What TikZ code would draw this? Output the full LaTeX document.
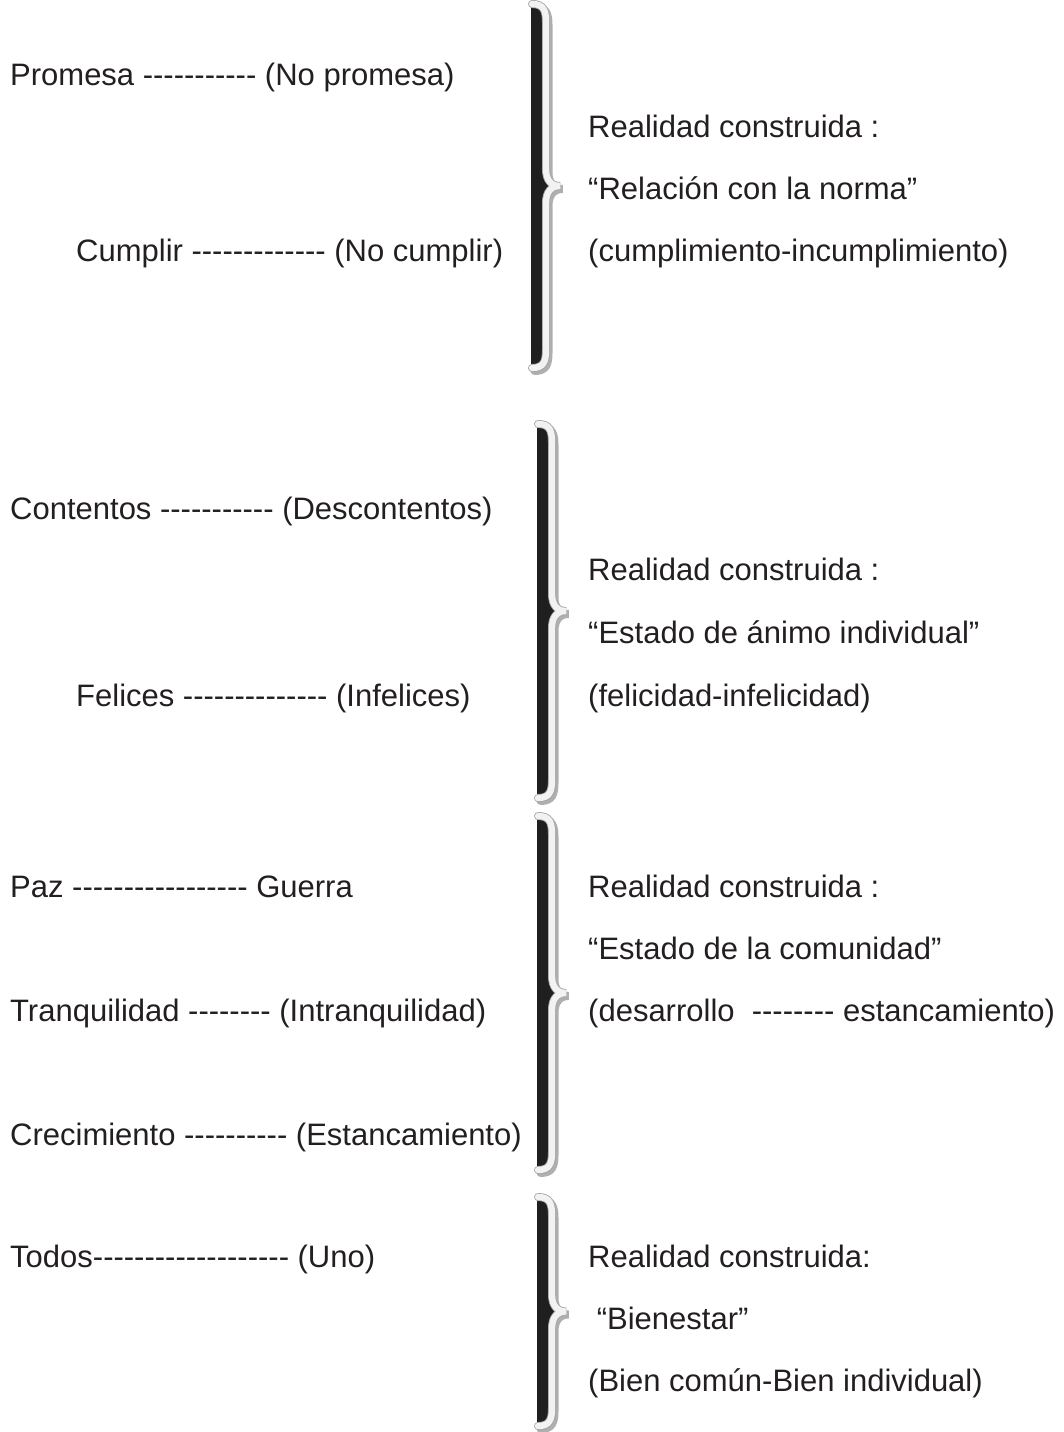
\documentclass[tikz,border=0pt]{standalone}
\usepackage{fontspec}
\defaultfontfeatures{Ligatures=TeXOff}
\setmainfont{Liberation Sans}[Ligatures=TeXOff]
\usepackage{tikz}
\definecolor{bracelight}{RGB}{242,242,242}
\definecolor{braceedge}{RGB}{165,165,165}
\definecolor{braceshadow}{RGB}{175,175,175}
\definecolor{txt}{RGB}{35,31,32}
% #1 left edge, #2 top, #3 bottom
\newcommand{\realbrace}[3]{%
  \pgfmathsetmacro{\bmid}{(#2+#3)/2}
  \def\bpath{(#1+1,#2) .. controls (#1+13,#2) and (#1+15,#2+7) .. (#1+15,#2+18)
      -- (#1+15,\bmid-17) .. controls (#1+15,\bmid-5) and (#1+21,\bmid) .. (#1+29,\bmid)
      .. controls (#1+21,\bmid) and (#1+15,\bmid+5) .. (#1+15,\bmid+17)
      -- (#1+15,#3-18) .. controls (#1+15,#3-7) and (#1+13,#3) .. (#1+1,#3)}
  \draw[braceshadow, line width=8pt, line cap=round, shift={(2.5,3)}] \bpath;
  \fill[black!88] \bpath -- (#1,#3) -- (#1,#2) -- cycle;
  \draw[braceedge, line width=8pt, line cap=round] \bpath;
  \draw[bracelight, line width=6.3pt, line cap=round] \bpath;
}
\tikzset{
    term/.style={anchor=base west, inner sep=0pt, text=txt, font=\fontsize{31}{37}\selectfont},
    reality/.style={term}
}

\begin{document}
\begin{tikzpicture}[x=1pt, y=-1pt]
      \useasboundingbox (0,0) rectangle (1063,1432);

      % norma
      \node[term] (promesa) at (10,85) {Promesa ----------- (No promesa)};
      \node[term] (cumplir) at (76,261) {Cumplir ------------- (No cumplir)};
      \node[reality] (rc-norma) at (588,137) {Realidad construida :};
      \node[reality] (norma) at (588,199) {“Relación con la norma”};
      \node[reality] (norma-par) at (588,261) {(cumplimiento-incumplimiento)};
      \realbrace{531}{4}{368}

      % animo
      \node[term] (contentos) at (10,519) {Contentos ----------- (Descontentos)};
      \node[term] (felices) at (76,706) {Felices -------------- (Infelices)};
      \node[reality] (rc-animo) at (588,580) {Realidad construida :};
      \node[reality] (animo) at (588,643) {“Estado de ánimo individual”};
      \node[reality] (animo-par) at (588,706) {(felicidad-infelicidad)};
      \realbrace{537}{424}{798}

      % comunidad
      \node[term] (paz) at (10,897) {Paz ----------------- Guerra};
      \node[term] (tranquilidad) at (10,1021) {Tranquilidad -------- (Intranquilidad)};
      \node[term] (crecimiento) at (10,1145) {Crecimiento ---------- (Estancamiento)};
      \node[reality] (rc-comunidad) at (588,897) {Realidad construida :};
      \node[reality] (comunidad) at (588,959) {“Estado de la comunidad”};
      \node[reality] (comunidad-par) at (588,1021) {(desarrollo\ \ -------- estancamiento)};
      \realbrace{537}{816}{1170}

      % bienestar
      \node[term] (todos) at (10,1267) {Todos------------------- (Uno)};
      \node[reality] (rc-bienestar) at (588,1267) {Realidad construida:};
      \node[reality] (bienestar) at (588,1329) {\ “Bienestar”};
      \node[reality] (bienestar-par) at (588,1391) {(Bien común-Bien individual)};
      \realbrace{537}{1197}{1426}
\end{tikzpicture}
\end{document}
